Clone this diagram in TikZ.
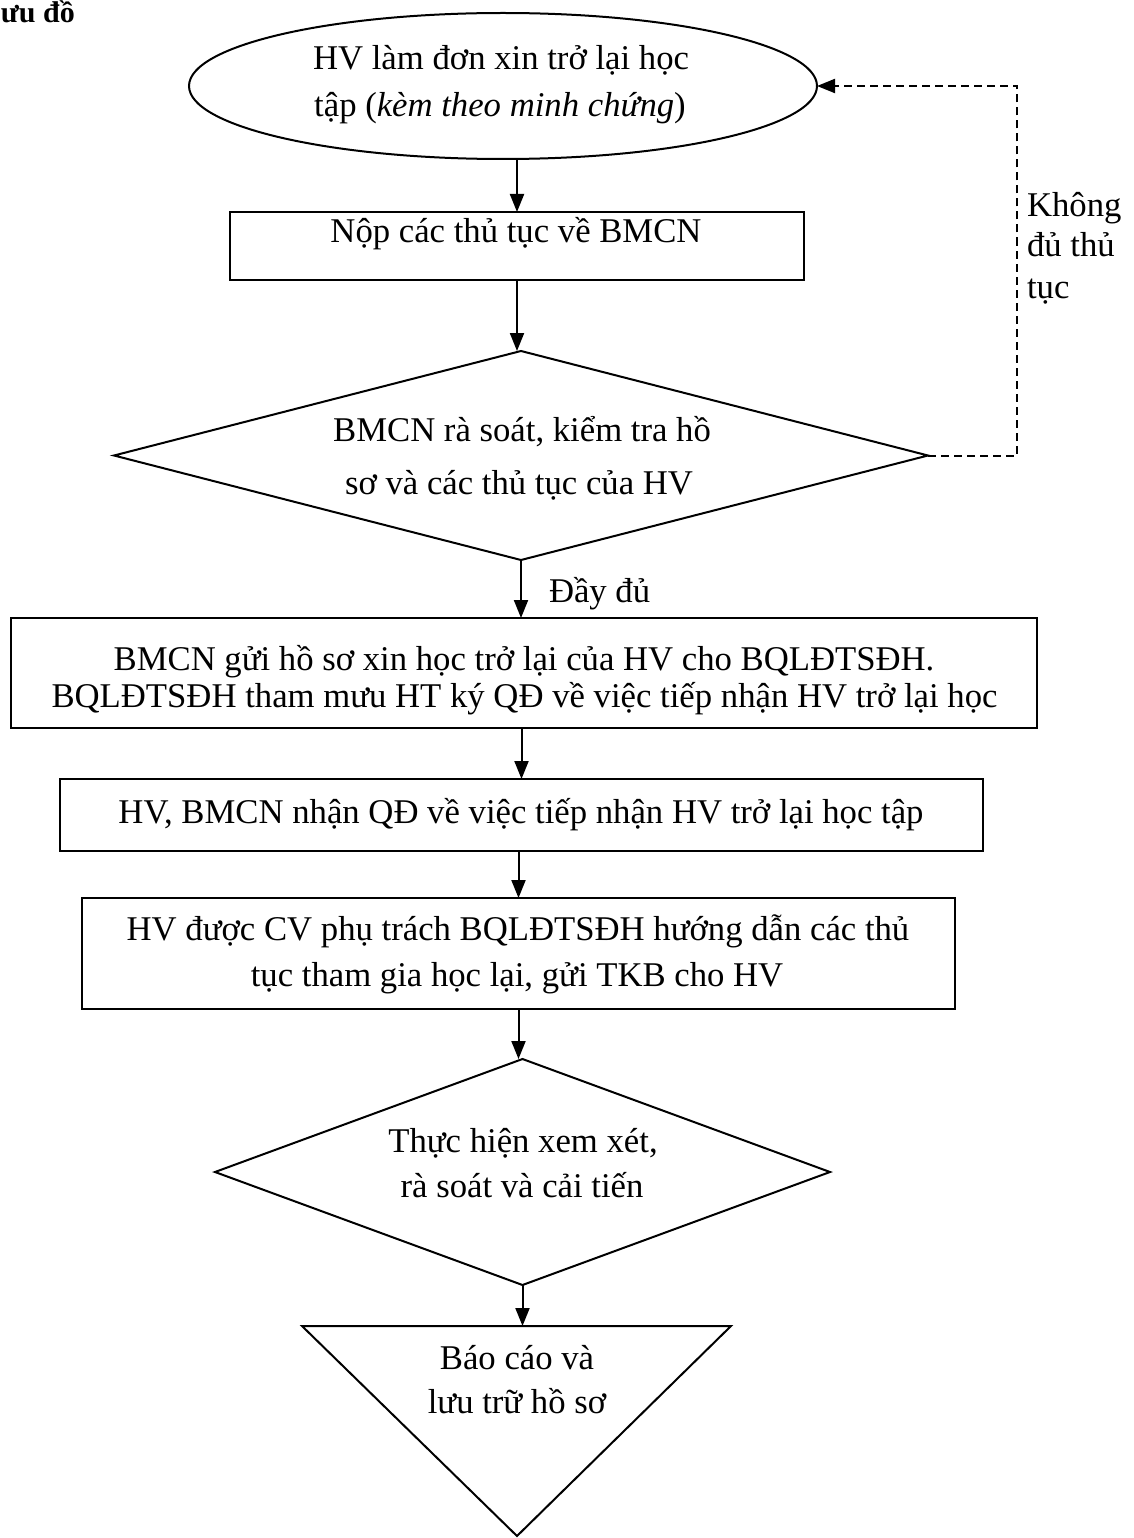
\documentclass[tikz,border=0pt]{standalone}
\usepackage{fontspec}
\setmainfont{Liberation Serif}
\usetikzlibrary{shapes.geometric,arrows.meta}
\begin{document}
\begin{tikzpicture}[x=1pt,y=-1pt,
  every node/.style={inner sep=0pt, outer sep=0pt},
  txt/.style={anchor=base, font=\fontsize{34.7}{40}\selectfont},
  txtl/.style={anchor=base west, font=\fontsize{34.7}{40}\selectfont},
  boxs/.style={draw, line width=2pt, rectangle},
  ell/.style={draw, line width=2pt, ellipse},
  dia/.style={draw, line width=2pt, diamond},
  arr/.style={line width=2pt, -{Triangle[length=18pt,width=14pt]}},
  dasharr/.style={line width=2pt, dash pattern=on 8pt off 5pt, -{Triangle[length=18pt,width=14pt]}}
]
\useasboundingbox (0,0) rectangle (1133,1538);

% title
\node[anchor=base west, font=\fontsize{30}{36}\selectfont\bfseries] (title) at (1,23) {ưu đồ};

% shapes
\node[ell, minimum width=628pt, minimum height=146pt] (e) at (503,86) {};
\node[boxs, minimum width=574pt, minimum height=68pt] (b1) at (517,246) {};
\node[dia, minimum width=814pt, minimum height=209pt] (d1) at (521,455.5) {};
\node[boxs, minimum width=1026pt, minimum height=110pt] (b2) at (524,673) {};
\node[boxs, minimum width=923pt, minimum height=72pt] (b3) at (521.5,815) {};
\node[boxs, minimum width=873pt, minimum height=111pt] (b4) at (518.5,953.5) {};
\node[dia, minimum width=615pt, minimum height=226pt] (d2) at (522.5,1172) {};
\coordinate (tl) at (302,1326);
\coordinate (tr) at (731,1326);
\coordinate (tb) at (517,1536);
\coordinate (tt) at (517,1326);
\draw[line width=2pt, line join=miter] (tl) -- (tr) -- (tb) -- cycle;

% texts
\node[txt] (e1) at (501,70) {HV làm đơn xin trở lại học};
\node[txt] (e2) at (500,117) {tập (\textit{kèm theo minh chứng})};
\node[txt] (t1) at (516,243) {Nộp các thủ tục về BMCN};
\node[txt] (d1a) at (522,441) {BMCN rà soát, kiểm tra hồ};
\node[txt] (d1b) at (519,494) {sơ và các thủ tục của HV};
\node[txtl] (ok) at (549,602) {Đầy đủ};
\node[txt] (b2a) at (524,670) {BMCN gửi hồ sơ xin học trở lại của HV cho BQLĐTSĐH.};
\node[txt] (b2b) at (524.5,707) {BQLĐTSĐH tham mưu HT ký QĐ về việc tiếp nhận HV trở lại học};
\node[txt] (b3a) at (521,823) {HV, BMCN nhận QĐ về việc tiếp nhận HV trở lại học tập};
\node[txt] (b4a) at (518,940) {HV được CV phụ trách BQLĐTSĐH hướng dẫn các thủ};
\node[txt] (b4b) at (517,986) {tục tham gia học lại, gửi TKB cho HV};
\node[txt] (d2a) at (523,1152) {Thực hiện xem xét,};
\node[txt] (d2b) at (522,1197) {rà soát và cải tiến};
\node[txt] (ta) at (517,1369) {Báo cáo và};
\node[txt] (tb2) at (517,1413) {lưu trữ hồ sơ};
\node[txtl] (k1) at (1027,217) {Không};
\node[txtl] (k2) at (1027,257) {đủ thủ};
\node[txtl] (k3) at (1027,298) {tục};

% connectors
\draw[arr] (b1.north |- e.south) -- (b1.north);
\draw[arr] (b1.south) -- (b1.south |- d1.north);
\draw[arr] (d1.south) -- (d1.south |- b2.north);
\draw[arr] (b3.north |- b2.south) -- (b3.north);
\draw[arr] (b4.north |- b3.south) -- (b4.north);
\draw[arr] (b4.south) -- (b4.south |- d2.north);
\draw[arr] (d2.south) -- (d2.south |- tt);
\coordinate (fb) at (1017,0);
\draw[dasharr] (d1.east) -- (d1.east -| fb) -- (fb |- e.east) -- (e.east);
\end{tikzpicture}
\end{document}
